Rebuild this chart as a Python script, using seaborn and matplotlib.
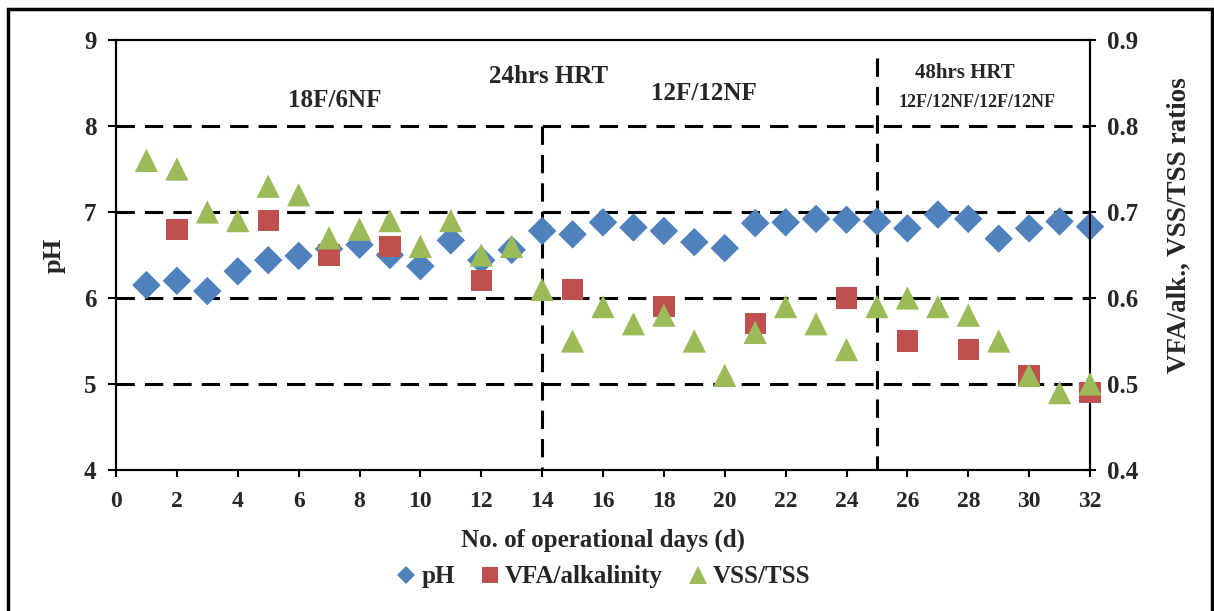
import numpy as np
import pandas as pd
import matplotlib
matplotlib.use("Agg")
import matplotlib.pyplot as plt
import seaborn as sns
from matplotlib.lines import Line2D
from matplotlib.patches import Rectangle

# ---------------- data ----------------
days = list(range(1, 33))
ph = [6.15, 6.20, 6.08, 6.31, 6.44, 6.49, 6.57, 6.62, 6.50, 6.37, 6.67, 6.44,
      6.56, 6.78, 6.74, 6.88, 6.82, 6.78, 6.65, 6.58, 6.87, 6.88, 6.92, 6.91,
      6.89, 6.81, 6.97, 6.92, 6.69, 6.81, 6.89, 6.83]
vfa_days = [2, 5, 7, 9, 12, 15, 18, 21, 24, 26, 28, 30, 32]
vfa = [0.68, 0.69, 0.65, 0.66, 0.62, 0.61, 0.59, 0.57, 0.60, 0.55, 0.54, 0.51, 0.49]
vss = [0.76, 0.75, 0.70, 0.69, 0.73, 0.72, 0.67, 0.68, 0.69, 0.66, 0.69, 0.65,
       0.66, 0.61, 0.55, 0.59, 0.57, 0.58, 0.55, 0.51, 0.56, 0.59, 0.57, 0.54,
       0.59, 0.60, 0.59, 0.58, 0.55, 0.51, 0.49, 0.50]
x_ticks = list(range(0, 33, 2))
ph_ticks = [4, 5, 6, 7, 8, 9]
ratio_ticks = [0.4, 0.5, 0.6, 0.7, 0.8, 0.9]
grid_levels = [5, 6, 7, 8]
series_names = ["pH", "VFA/alkalinity", "VSS/TSS"]

df_ph = pd.DataFrame({"day": days, "value": ph})
df_vfa = pd.DataFrame({"day": vfa_days, "value": vfa})
df_vss = pd.DataFrame({"day": days, "value": vss})

# ---------------- style ----------------
sns.set_theme(style="white")
plt.rcParams["font.family"] = ["Liberation Serif", "DejaVu Serif"]
plt.rcParams["font.weight"] = "bold"
plt.rcParams["axes.labelweight"] = "bold"

C_BLUE = "#4F81BD"
C_RED = "#C0504D"
C_GREEN = "#9BBB59"

fig = plt.figure(figsize=(12.14, 6.11), dpi=100)
ax = fig.add_axes([116 / 1214, 1 - 470 / 611, (1090 - 116) / 1214, (470 - 40) / 611])
ax2 = ax.twinx()

# grid lines (dashed)
dash = (0, (6, 3.3))
for g in grid_levels:
    ax.axhline(g, color="black", lw=2.2, ls=dash, zorder=1)
ax.plot([14, 14], [8, 4], color="black", lw=2.2, ls=dash, zorder=1)
ax.plot([25, 25], [8.79, 4], color="black", lw=2.2, ls=dash, zorder=1)

sns.scatterplot(data=df_ph, x="day", y="value", ax=ax, marker="D", s=210,
                color=C_BLUE, edgecolor="none", zorder=3, legend=False, clip_on=False)
sns.scatterplot(data=df_vfa, x="day", y="value", ax=ax2, marker="s", s=235,
                color=C_RED, edgecolor="none", zorder=3, legend=False, clip_on=False)
sns.scatterplot(data=df_vss, x="day", y="value", ax=ax2, marker="^", s=280,
                color=C_GREEN, edgecolor="none", zorder=4, legend=False, clip_on=False)

ax.set_xlim(0, 32)
ax.set_ylim(4, 9)
ax2.set_ylim(0.4, 0.9)
ax.set_xticks(x_ticks)
ax.set_yticks(ph_ticks)
ax2.set_yticks(ratio_ticks)
ax2.set_yticklabels([f"{t:.1f}" for t in ratio_ticks])

for a in (ax, ax2):
    for sp in a.spines.values():
        sp.set_color("black")
        sp.set_linewidth(1.5)
        sp.set_visible(True)

ax.tick_params(axis="x", direction="out", length=5, width=1.5, pad=10,
               labelsize=17, color="black", bottom=True)
ax.tick_params(axis="y", direction="out", length=6, width=1.5, pad=8,
               labelsize=18, color="black", left=True)
ax2.tick_params(axis="y", direction="inout", length=9, width=1.5, pad=8,
                labelsize=18, color="black", right=True)
for lab in ax.get_xticklabels() + ax.get_yticklabels() + ax2.get_yticklabels():
    lab.set_fontweight("bold")

ax.set_xlabel("No. of operational days (d)", fontsize=18, fontweight="bold", labelpad=12)
ax.set_ylabel("pH", fontsize=19, fontweight="bold")
ax.yaxis.set_label_coords(-0.052, 0.5)
ax2.set_ylabel("VFA/alk., VSS/TSS ratios", fontsize=19.5, fontweight="bold")
ax2.yaxis.set_label_coords(1.079, 0.57)

# annotations
ax.text(7.2, 8.30, "18F/6NF", ha="center", va="center", fontsize=18, fontweight="bold")
ax.text(14.2, 8.58, "24hrs HRT", ha="center", va="center", fontsize=18, fontweight="bold")
ax.text(19.3, 8.38, "12F/12NF", ha="center", va="center", fontsize=18, fontweight="bold")
ax.text(27.9, 8.62, "48hrs HRT", ha="center", va="center", fontsize=15, fontweight="bold")
ax.text(28.3, 8.27, "12F/12NF/12F/12NF", ha="center", va="center", fontsize=13, fontweight="bold")

# legend
handles = [
    Line2D([], [], marker="D", ls="none", color=C_BLUE, markersize=9, markeredgewidth=0),
    Line2D([], [], marker="s", ls="none", color=C_RED, markersize=12, markeredgewidth=0),
    Line2D([], [], marker="^", ls="none", color=C_GREEN, markersize=13, markeredgewidth=0),
]
fig.legend(handles, series_names, loc="center", bbox_to_anchor=(0.497, 0.056),
           ncol=3, frameon=False, handlelength=0.8, handletextpad=0.2,
           columnspacing=1.0, prop={"weight": "bold", "size": 18})

# outer frame
fig.patches.append(Rectangle((8 / 1214, -0.05), (1212 - 8) / 1214, 1.05 - 9 / 611,
                             transform=fig.transFigure, fill=False,
                             edgecolor="black", lw=2.5, zorder=10))

fig.savefig("out.png", dpi=100)
